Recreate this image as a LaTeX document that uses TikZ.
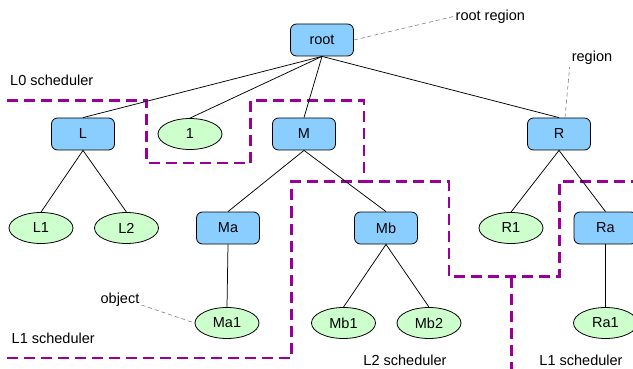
\documentclass[tikz,border=0pt]{standalone}
\usepackage{fontspec}
\setmainfont{Liberation Sans}
\usepackage{tikz}
\usetikzlibrary{shapes.geometric}

\definecolor{schedblue}{RGB}{138,206,255}
\definecolor{objgreen}{RGB}{204,255,204}
\definecolor{regionpurple}{RGB}{153,0,153}

\begin{document}
\begin{tikzpicture}[x=1pt,y=-1pt,
		font=\fontsize{14.5}{16}\selectfont,
		sched/.style={draw,line width=0.8pt,rounded corners=6pt,fill=schedblue,minimum width=63pt,minimum height=32pt,inner sep=0pt},
		obj/.style={draw,line width=0.8pt,ellipse,fill=objgreen,minimum width=64pt,minimum height=31pt,inner sep=0pt},
		edge/.style={line width=0.75pt},
		note/.style={gray,line width=0.6pt,dash pattern=on 4pt off 3pt},
		region/.style={regionpurple,line width=2.4pt,dash pattern=on 11pt off 6pt},
		lbl/.style={inner sep=2pt}
	]
	\useasboundingbox (0,0) rectangle (633,369);
	\clip (0,0) rectangle (633,369);
	
	% scheduler regions
	\draw [region] (7,100.5) -- (146.5,100.5) -- (146.5,163) -- (250.5,163) -- (250.5,100.5) -- (364,100.5) -- (364,181.5) -- (449,181.5) -- (449,276.5) -- (559.5,276.5) -- (559.5,181.5) -- (640,181.5);
	\draw [region] (7,358) -- (291.5,358) -- (291.5,181.5) -- (364,181.5);
	\draw [region] (511.5,276.5) -- (511.5,375);
	
	% tree
	\node [sched] (root) at (322,40) {root};
	\node [sched] (L) at (83,134) {L};
	\node [obj] (one) at (190,134) {1};
	\node [sched] (M) at (304,134) {M};
	\node [sched] (R) at (559,134) {R};
	
	\node [obj] (L1) at (41,228) {L1};
	\node [obj] (L2) at (126.5,228) {L2};
	\node [sched] (Ma) at (228,228) {Ma};
	\node [sched] (Mb) at (386,228) {Mb};
	\node [obj] (R1) at (511,228) {R1};
	\node [sched] (Ra) at (605.5,228) {Ra};
	
	\node [obj] (Ma1) at (227,323) {Ma1};
	\node [obj] (Mb1) at (343.5,323) {Mb1};
	\node [obj] (Mb2) at (429,323) {Mb2};
	\node [obj] (Ra1) at (605.5,323) {Ra1};
	
	\foreach \child in {L,one,M,R}
		\draw [edge] (root.south) -- (\child.north);
	\draw [edge] (L.south) -- (L1.north);
	\draw [edge] (L.south) -- (L2.north);
	\draw [edge] (M.south) -- (Ma.north);
	\draw [edge] (M.south) -- (Mb.north);
	\draw [edge] (R.south) -- (R1.north);
	\draw [edge] (R.south) -- (Ra.north);
	\draw [edge] (Ma.south) -- (Ma1.north);
	\draw [edge] (Mb.south) -- (Mb1.north);
	\draw [edge] (Mb.south) -- (Mb2.north);
	\draw [edge] (Ra.south) -- (Ra1.north);
	
	% annotations
	\node [lbl,anchor=west] (rootreg) at (453.5,16.5) {root region};
	\node [lbl] (reg) at (592,58) {region};
	\node [lbl] (objlbl) at (120,300) {object};
	\draw [note] (root.east) -- (rootreg.west);
	\draw [note] ([xshift=6pt]R.north) -- (reg.south west);
	\draw [note] ([yshift=-5pt]objlbl.east) -- (Ma1.west);
	
	\node [lbl,anchor=west] (l0sched) at (8,80) {L0 scheduler};
	\node [lbl,anchor=west] (l1sched) at (9.5,338) {L1 scheduler};
	\node [lbl] (l2sched) at (405,360) {L2 scheduler};
	\node [lbl] (l1schedb) at (581,360) {L1 scheduler};
\end{tikzpicture}
\end{document}
